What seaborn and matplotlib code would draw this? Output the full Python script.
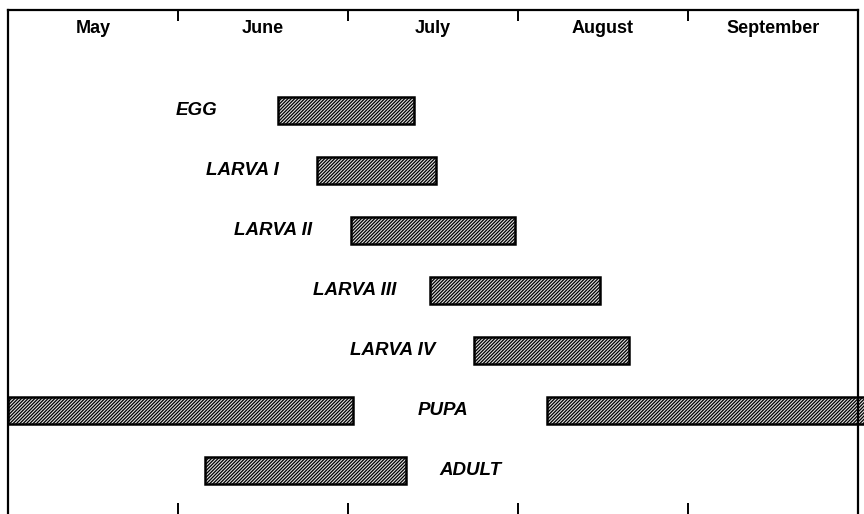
import matplotlib
matplotlib.use("Agg")
import matplotlib.pyplot as plt
import seaborn as sns

# ---------------------------------------------------------------
# Data: life-stage occurrence, in months counted from 1 May
# ---------------------------------------------------------------
months = ["May", "June", "July", "August", "September"]
stages = ["EGG", "LARVA I", "LARVA II", "LARVA III", "LARVA IV", "PUPA", "ADULT"]

# one entry per bar segment (PUPA has two)
seg_stage = ["EGG", "LARVA I", "LARVA II", "LARVA III", "LARVA IV", "PUPA", "PUPA", "ADULT"]
seg_start = [1.59, 1.82, 2.02, 2.48, 2.74, 0.00, 3.17, 1.16]
seg_end = [2.39, 2.52, 2.98, 3.48, 3.65, 2.03, 5.10, 2.34]

# label anchor (centre, in months) for each stage
label_x = [1.11, 1.38, 1.56, 2.04, 2.26, 2.56, 2.72]

# ---------------------------------------------------------------
# Theme
# ---------------------------------------------------------------
sns.set_theme(style="white")
plt.rcParams["font.family"] = ["Liberation Sans", "DejaVu Sans"]
plt.rcParams["hatch.linewidth"] = 0.9

fig = plt.figure(figsize=(8.64, 5.14), dpi=100)
ax = fig.add_axes([8 / 864, 0.0, 850 / 864, 504 / 514])

row_of = {s: i for i, s in enumerate(stages)}

# bars
for stage, x0, x1 in zip(seg_stage, seg_start, seg_end):
    ax.barh(row_of[stage], x1 - x0, left=x0, height=0.45,
            facecolor="#e0e0e0", edgecolor="black", linewidth=1.8,
            hatch="//////////", clip_on=(x1 <= len(months)))

# stage labels
for stage, lx in zip(stages, label_x):
    ax.text(lx, row_of[stage], stage, ha="center", va="center",
            fontsize=13.5, fontstyle="italic", fontweight="bold", color="black")

# month names inside the top of the frame
for i, m in enumerate(months):
    ax.text(i + 0.5, -1.37, m, ha="center", va="center",
            fontsize=13, fontweight="bold", color="black")

ax.set_xlim(0, len(months))
ax.set_ylim(6.717, -1.683)

# month boundary ticks, top and bottom, pointing in
ax.set_xticks(range(1, len(months)))
ax.tick_params(axis="x", which="major", top=True, bottom=True, direction="in",
               length=8, width=1.4, color="black",
               labelbottom=False, labeltop=False)
ax.set_yticks([])

for side in ["top", "left", "right"]:
    ax.spines[side].set_linewidth(1.6)
    ax.spines[side].set_color("black")
ax.spines["bottom"].set_visible(False)

fig.savefig("out.png", dpi=100)
